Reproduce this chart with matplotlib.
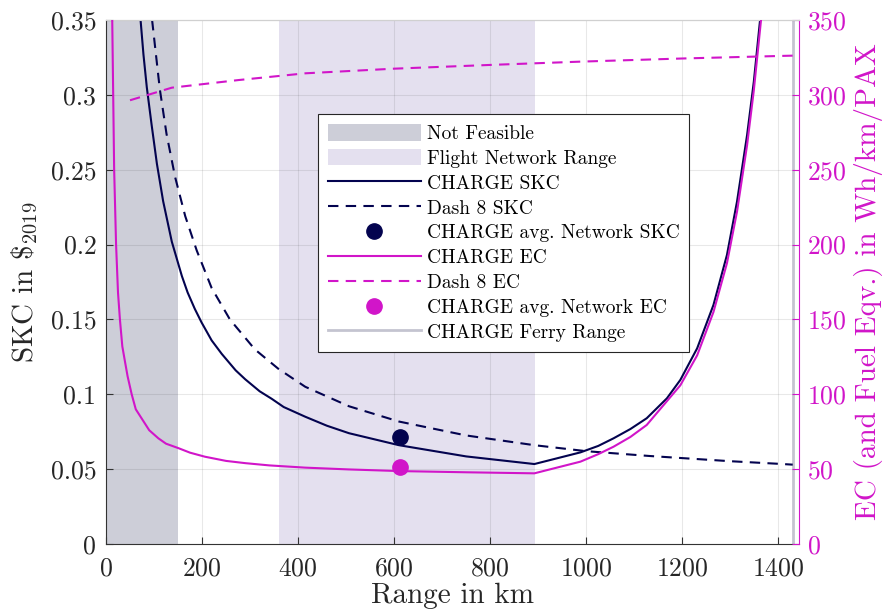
import matplotlib
matplotlib.use('Agg')
import matplotlib.pyplot as plt
from matplotlib.patches import Patch
from matplotlib.lines import Line2D

plt.rcParams['font.family'] = ['cmr10', 'DejaVu Serif']
plt.rcParams['mathtext.fontset'] = 'cm'
plt.rcParams['axes.formatter.use_mathtext'] = True

# CHARGE seat kilometre cost (SKC) over range
charge_skc_x = [72, 78, 85, 95, 106, 119, 137, 158, 170, 185, 199, 220, 241, 270, 290, 320,
                345, 370, 415, 460, 506, 610, 750, 892,
                988, 1025, 1057, 1092, 1126, 1168, 1196, 1231, 1265, 1293, 1314, 1335, 1349, 1362]
charge_skc_y = [0.35, 0.327, 0.305, 0.280, 0.254, 0.229, 0.202, 0.179, 0.168, 0.157, 0.148,
                0.136, 0.127, 0.116, 0.110, 0.102, 0.097, 0.0915, 0.085, 0.079,
                0.074, 0.066, 0.0585, 0.0534,
                0.0612, 0.0655, 0.0706, 0.0768, 0.084, 0.0973, 0.1096, 0.1307, 0.1597, 0.193,
                0.2287, 0.2732, 0.3088, 0.35]

# Dash 8 SKC
dash8_skc_x = [96, 112, 126, 144, 165, 189, 220, 258, 310, 359, 415, 506, 610, 750, 892,
               1000, 1131, 1300, 1404, 1430]
dash8_skc_y = [0.35, 0.304, 0.274, 0.245, 0.219, 0.196, 0.171, 0.150, 0.130, 0.117, 0.105,
               0.092, 0.0818, 0.0725, 0.066, 0.062, 0.0588, 0.0553, 0.0535, 0.053]

# CHARGE energy consumption (EC) in Wh/km/PAX
charge_ec_x = [13, 15, 17, 21, 25, 29, 34, 40, 45, 53.5, 62, 74, 90, 109, 125, 151, 175,
               206, 250, 290, 340, 415, 506, 612, 750, 892,
               988, 1025, 1057, 1092, 1126, 1196, 1231, 1265, 1293, 1314, 1335, 1349, 1364]
charge_ec_y = [350, 300, 250, 200, 168, 150, 132, 121, 112, 100, 90, 84, 76, 70.6, 67,
               64, 61, 58.3, 55.5, 54, 52.5, 51, 49.8, 48.7, 47.9, 47.2,
               55, 60, 65, 71.5, 79.5, 106, 126, 155, 187.5, 222, 266.5, 303, 350]

# Dash 8 fuel energy equivalent
dash8_ec_x = [50, 137, 276, 415, 600, 800, 988, 1200, 1404, 1430]
dash8_ec_y = [296.4, 304.8, 309.9, 314.4, 317.5, 320, 322.2, 324.3, 326, 326.2]

# network averages
avg_range = 613
avg_skc = 0.0715
avg_ec = 51.4

not_feasible = (0, 150)
network_range = (360, 893)
ferry_range = 1431

x_ticks = [0, 200, 400, 600, 800, 1000, 1200, 1400]
skc_ticks = [0, 0.05, 0.1, 0.15, 0.2, 0.25, 0.3, 0.35]
skc_tick_labels = ['0', '0.05', '0.1', '0.15', '0.2', '0.25', '0.3', '0.35']
ec_ticks = [0, 50, 100, 150, 200, 250, 300, 350]

navy = '#03034f'
magenta = '#d115c9'
nf_gray = '#cdced8'
net_lav = '#e4e0ef'
ferry_gray = '#c4c4d0'
axis_dark = '#333333'

fig = plt.figure(figsize=(8.84, 6.16), dpi=100)
ax = fig.add_axes([0.1199, 0.1169, 0.9038 - 0.1199, 0.9675 - 0.1169])
ax2 = ax.twinx()

ax.axvspan(*not_feasible, color=nf_gray, lw=0, zorder=0)
ax.axvspan(*network_range, color=net_lav, lw=0, zorder=0)
ax.axvline(ferry_range, color=ferry_gray, lw=2, zorder=1.2)

ax.plot(charge_skc_x, charge_skc_y, color=navy, lw=1.5, zorder=3)
ax.plot(dash8_skc_x, dash8_skc_y, color=navy, lw=1.5, ls=(0, (5, 3.5)), zorder=3)
ax.plot([avg_range], [avg_skc], 'o', color=navy, ms=11, zorder=4)

ax2.plot(charge_ec_x, charge_ec_y, color=magenta, lw=1.5, zorder=3)
ax2.plot(dash8_ec_x, dash8_ec_y, color=magenta, lw=1.5, ls=(0, (5, 3.5)), zorder=3)
ax2.plot([avg_range], [avg_ec], 'o', color=magenta, ms=11, zorder=4)

ax.set_xlim(0, 1443)
ax.set_ylim(0, 0.35)
ax2.set_ylim(0, 350)

ax.set_xticks(x_ticks)
ax.set_yticks(skc_ticks)
ax.set_yticklabels(skc_tick_labels)
ax2.set_yticks(ec_ticks)

ax.grid(True, color='#262626', alpha=0.1, lw=0.8)
ax.tick_params(axis='both', direction='in', length=5, width=0.8, colors=axis_dark,
               labelsize=18.5, labelcolor='#262626')
ax.tick_params(axis='x', pad=9)
ax.tick_params(axis='y', pad=7)
ax2.tick_params(axis='y', direction='in', length=5, width=0.8, colors=magenta,
                labelsize=18.5, pad=6)

for sp in ['left', 'bottom']:
    ax.spines[sp].set_color(axis_dark)
    ax.spines[sp].set_linewidth(0.8)
ax.spines['right'].set_visible(False)
ax2.spines['left'].set_visible(False)
ax2.spines['bottom'].set_visible(False)
ax.spines['top'].set_color('#d0d0d0')
ax2.spines['top'].set_color('#d0d0d0')
ax2.spines['right'].set_color(magenta)
ax2.spines['right'].set_linewidth(0.8)

ax.set_xlabel('Range in km', fontsize=21, color='#262626', labelpad=2)
ax.set_ylabel(r'SKC in \$$_{2019}$', fontsize=21, color='#262626', labelpad=8)
ax2.set_ylabel('EC (and Fuel Eqv.) in Wh/km/PAX', fontsize=21, color=magenta, labelpad=5)

handles = [
    Patch(color=nf_gray, lw=0),
    Patch(color=net_lav, lw=0),
    Line2D([], [], color=navy, lw=1.5),
    Line2D([], [], color=navy, lw=1.5, ls=(0, (5, 3.5))),
    Line2D([], [], color=navy, marker='o', ms=11, ls='none'),
    Line2D([], [], color=magenta, lw=1.5),
    Line2D([], [], color=magenta, lw=1.5, ls=(0, (5, 3.5))),
    Line2D([], [], color=magenta, marker='o', ms=11, ls='none'),
    Line2D([], [], color=ferry_gray, lw=2),
]
labels = ['Not Feasible', 'Flight Network Range', 'CHARGE SKC', 'Dash 8 SKC',
          'CHARGE avg. Network SKC', 'CHARGE EC', 'Dash 8 EC',
          'CHARGE avg. Network EC', 'CHARGE Ferry Range']
leg = ax2.legend(handles, labels, loc='upper left', bbox_to_anchor=(0.306, 0.8206),
                 borderaxespad=0, fontsize=14, handlelength=4.8, handleheight=0.95,
                 handletextpad=0.3, labelspacing=0.3, borderpad=0.5, numpoints=1,
                 fancybox=False, framealpha=1, edgecolor='#262626')
leg.get_frame().set_linewidth(0.8)
leg.set_zorder(10)

fig.savefig('out.png', dpi=100)
